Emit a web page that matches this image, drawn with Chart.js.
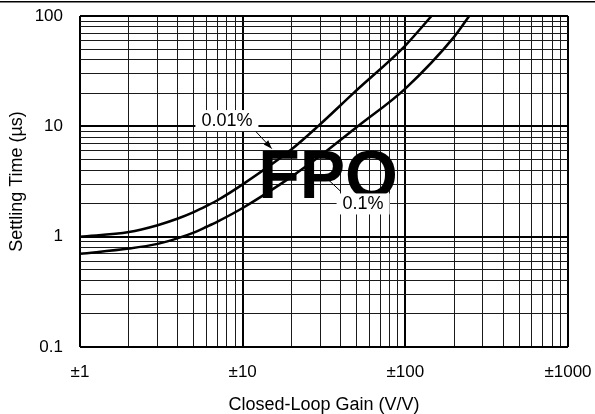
<!DOCTYPE html>
<html lang="en">
<head>
<meta charset="UTF-8">
<title>Settling Time vs Closed-Loop Gain</title>
<script src="https://cdn.jsdelivr.net/npm/chart.js@4.4.0/dist/chart.umd.min.js"></script>
<style>
  html, body { margin: 0; padding: 0; background: #fff; }
  #wrap { width: 595px; height: 414px; position: relative; }
</style>
</head>
<body>
<div id="wrap"><canvas id="settleChart" width="595" height="414"></canvas></div>
<script>
// decade tick labels
const gainDecades = [1, 10, 100, 1000];
const timeDecades = [0.1, 1, 10, 100];

// 0.01% settling curve
const gain001 = [1, 2, 3, 4, 5, 6, 7, 10, 20, 29, 48, 100, 145];
const time001 = [1.0, 1.10, 1.27, 1.46, 1.67, 1.90, 2.14, 2.98, 6.2, 10, 20, 54, 100];

// 0.1% settling curve
const gain01 = [1, 2, 3, 4, 5, 6, 7, 10, 20, 30, 51, 100, 200, 247];
const time01 = [0.70, 0.78, 0.86, 0.97, 1.09, 1.23, 1.37, 1.82, 3.5, 5.4, 10, 22, 65, 100];

const FONT = '"Liberation Sans", Arial, sans-serif';

// callouts, anchored in data units (gain, time)
const callouts = [
  { text: '0.01%', at: [8.0, 11.4], from: [11.9, 9.15], to: [15.1, 6.28], head: true },
  { text: '0.1%', at: [55, 2.0], from: [40.2, 2.56], to: [31.6, 3.57], head: false }
];

function logTicks(decades) {
  const out = [];
  for (let i = 0; i < decades.length - 1; i++) {
    for (let m = 1; m < 10; m++) out.push({ value: +(decades[i] * m).toPrecision(6) });
  }
  out.push({ value: decades[decades.length - 1] });
  return out;
}

function isDecade(v) {
  const l = Math.log10(v);
  return Math.abs(l - Math.round(l)) < 1e-9;
}

function toPts(xs, ys) {
  return xs.map((x, i) => ({ x: x, y: ys[i] }));
}

const gridOpts = {
  color: ctx => isDecade(ctx.tick.value) ? '#000' : '#1a1a1a',
  lineWidth: ctx => isDecade(ctx.tick.value) ? 2 : 1,
  drawTicks: false
};

const annotPlugin = {
  id: 'annot',
  beforeDatasetsDraw(chart) {
    const { ctx, scales: { x, y } } = chart;
    ctx.save();
    ctx.fillStyle = '#000';
    ctx.font = 'bold 68px ' + FONT;
    ctx.textAlign = 'center';
    ctx.textBaseline = 'alphabetic';
    ctx.fillText('FPO', x.getPixelForValue(33.5), y.getPixelForValue(2.26));
    ctx.restore();
  },
  afterDatasetsDraw(chart) {
    const { ctx, scales: { x, y } } = chart;
    ctx.save();
    ctx.font = '18px ' + FONT;
    ctx.textAlign = 'center';
    ctx.textBaseline = 'middle';
    callouts.forEach(c => {
      const x1 = x.getPixelForValue(c.from[0]), y1 = y.getPixelForValue(c.from[1]);
      const x2 = x.getPixelForValue(c.to[0]), y2 = y.getPixelForValue(c.to[1]);
      ctx.strokeStyle = '#000';
      ctx.lineWidth = 1;
      ctx.beginPath();
      ctx.moveTo(x1, y1);
      ctx.lineTo(x2, y2);
      ctx.stroke();
      if (c.head) {
        const a = Math.atan2(y2 - y1, x2 - x1);
        ctx.fillStyle = '#000';
        ctx.beginPath();
        ctx.moveTo(x2, y2);
        ctx.lineTo(x2 - 9 * Math.cos(a - 0.35), y2 - 9 * Math.sin(a - 0.35));
        ctx.lineTo(x2 - 9 * Math.cos(a + 0.35), y2 - 9 * Math.sin(a + 0.35));
        ctx.closePath();
        ctx.fill();
      }
      const cx = x.getPixelForValue(c.at[0]), cy = y.getPixelForValue(c.at[1]);
      const w = ctx.measureText(c.text).width + 12;
      ctx.fillStyle = '#fff';
      ctx.fillRect(cx - w / 2, cy - 10, w, 21);
      ctx.fillStyle = '#000';
      ctx.fillText(c.text, cx, cy + 1);
    });
    ctx.restore();
  },
  afterDraw(chart) {
    const ctx = chart.ctx;
    ctx.save();
    ctx.fillStyle = '#000';
    ctx.fillRect(0, 1, chart.width, 1.5);
    ctx.restore();
  }
};

const lineStyle = {
  borderColor: '#000',
  backgroundColor: '#000',
  borderWidth: 2.5,
  pointRadius: 0,
  showLine: true,
  cubicInterpolationMode: 'monotone'
};

const chart = new Chart(document.getElementById('settleChart'), {
  type: 'scatter',
  data: {
    datasets: [
      Object.assign({ label: '0.01%', data: toPts(gain001, time001) }, lineStyle),
      Object.assign({ label: '0.1%', data: toPts(gain01, time01) }, lineStyle)
    ]
  },
  options: {
    responsive: false,
    animation: false,
    events: [],
    layout: { padding: { left: 0, right: 27, top: 16, bottom: 0 } },
    plugins: { legend: { display: false }, tooltip: { enabled: false }, colors: { enabled: false } },
    scales: {
      x: {
        type: 'logarithmic',
        min: 1, max: 1000,
        afterBuildTicks: s => { s.ticks = logTicks(gainDecades); },
        afterFit: s => { s.height = 67; s.paddingLeft = 0; s.paddingRight = 0; },
        grid: gridOpts,
        border: { display: false },
        ticks: {
          autoSkip: false, maxRotation: 0, padding: 15,
          color: '#000', font: { family: FONT, size: 17 },
          callback: v => gainDecades.includes(v) ? '\u00b1' + v : ''
        },
        title: {
          display: true, text: 'Closed-Loop Gain (V/V)', color: '#000',
          font: { family: FONT, size: 18, lineHeight: 1 },
          padding: { top: 0, bottom: 0 }
        }
      },
      y: {
        type: 'logarithmic',
        min: 0.1, max: 100,
        afterBuildTicks: s => { s.ticks = logTicks(timeDecades); },
        afterFit: s => { s.width = 80; s.paddingTop = 0; s.paddingBottom = 0; },
        grid: gridOpts,
        border: { display: false },
        ticks: {
          autoSkip: false, padding: 17,
          color: '#000', font: { family: FONT, size: 17 },
          callback: v => timeDecades.includes(v) ? String(v) : ''
        },
        title: {
          display: true, text: 'Settling Time (\u00b5s)', color: '#000',
          font: { family: FONT, size: 18, lineHeight: 1 },
          padding: { top: 8, bottom: 0 }
        }
      }
    }
  },
  plugins: [annotPlugin]
});
</script>
</body>
</html>
